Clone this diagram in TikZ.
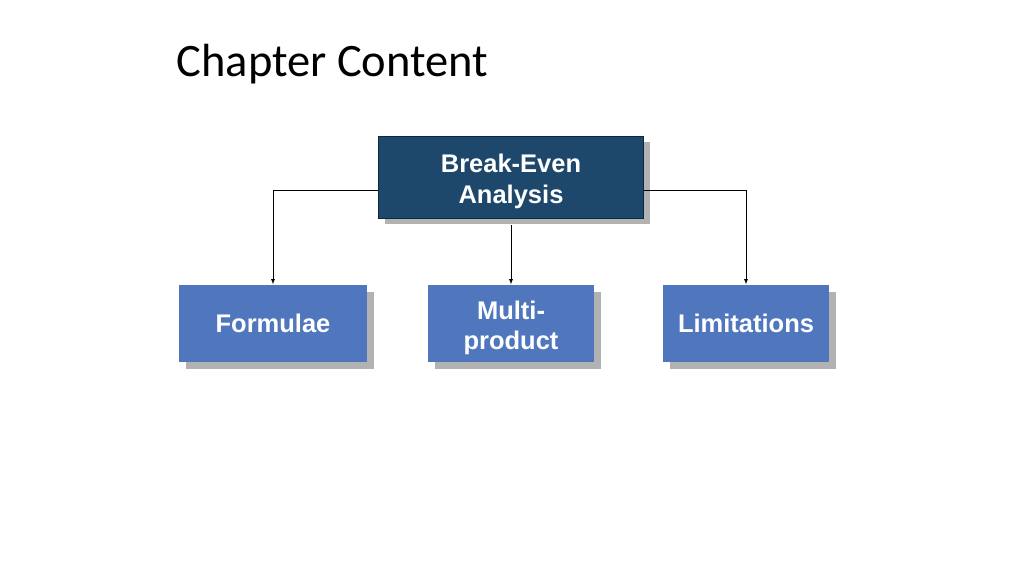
\documentclass[tikz,border=0pt]{standalone}
\usepackage{fontspec}
\usepackage{xcolor}
\usetikzlibrary{arrows,positioning,shadows}
\newfontfamily\boxfont{Liberation Sans}
\newfontfamily\titlefont{Carlito}
\definecolor{darkbox}{RGB}{29,71,107}
\definecolor{darkedge}{RGB}{16,40,62}
\definecolor{lightbox}{RGB}{80,119,190}
\definecolor{shade}{RGB}{178,178,178}
\newcommand{\liftline}{\rule{0pt}{27.5pt}}

\tikzset{
  topbox/.style={fill=darkbox,draw=darkedge,line width=0.8pt,text=white,align=center,
    minimum width=265pt,minimum height=82pt,inner sep=0pt,
    font=\boxfont\bfseries\fontsize{25.5}{31}\selectfont,
    drop shadow={shadow xshift=6pt,shadow yshift=-6pt,fill=shade,opacity=1}},
  subbox/.style={fill=lightbox,text=white,align=center,
    minimum height=77pt,inner sep=0pt,
    font=\boxfont\bfseries\fontsize{25.5}{30}\selectfont,
    drop shadow={shadow xshift=7pt,shadow yshift=-7pt,fill=shade,opacity=1}},
  link/.style={-latex,line width=0.8pt}
}

\begin{document}
\begin{tikzpicture}[x=1pt,y=-1pt]
\useasboundingbox (0,0) rectangle (1024,576);
\node[anchor=base west,font=\titlefont\fontsize{46.5}{50}\selectfont] (title) at (173,76) {Chapter Content};
\node[topbox] (bea) at (511,177) {\liftline Break-Even\\Analysis};
\node[subbox,minimum width=188pt] (form) at (273,323) {Formulae};
\node[subbox,minimum width=166pt] (multi) at (511,323) {\liftline Multi-\\product};
\node[subbox,minimum width=166pt] (limit) at (746,323) {Limitations};
% connectors
\draw[link] ([yshift=-13pt]bea.west) -| (form.north);
\draw[link] ([yshift=-7pt]bea.south) -- (multi.north);
\draw[link] ([yshift=-13pt]bea.east) -| (limit.north);
\end{tikzpicture}
\end{document}
